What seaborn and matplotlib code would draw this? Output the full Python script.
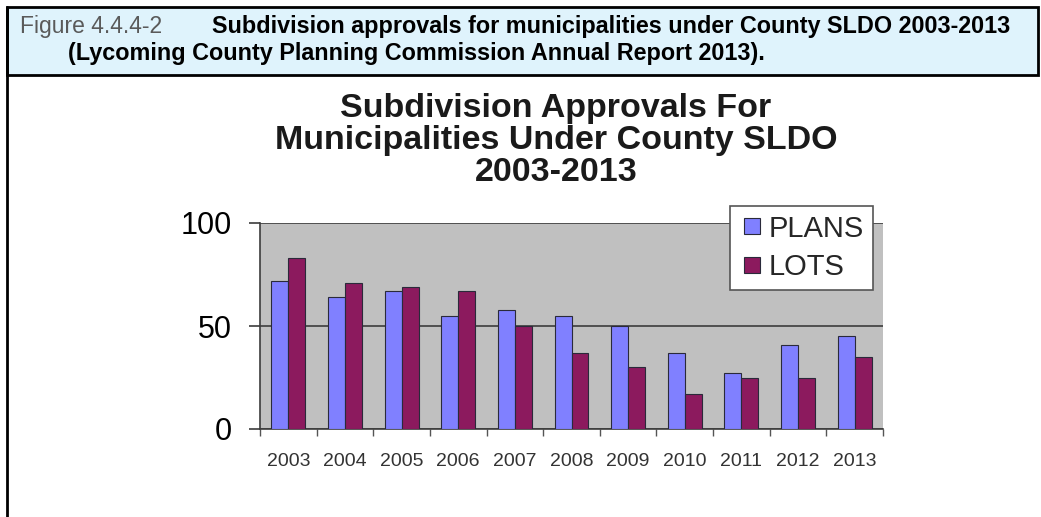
import matplotlib
matplotlib.use("Agg")
import matplotlib.pyplot as plt
import seaborn as sns
import pandas as pd
from matplotlib.patches import Rectangle
from matplotlib.lines import Line2D
from matplotlib.ticker import FixedLocator, NullFormatter

# ---- data ----
years = ["2003", "2004", "2005", "2006", "2007", "2008", "2009", "2010", "2011", "2012", "2013"]
plans = [72, 64, 67, 55, 58, 55, 50, 37, 27, 41, 45]
lots = [83, 71, 69, 67, 50, 37, 30, 17, 25, 25, 35]
series = ["PLANS", "LOTS"]
colors = ["#8080FF", "#8C1A5E"]
y_ticks = [0, 50, 100]

df = pd.DataFrame({
    "Year": years * 2,
    "Value": plans + lots,
    "Series": [series[0]] * len(years) + [series[1]] * len(years),
})

sns.set_theme(style="white")
plt.rcParams["font.family"] = ["Liberation Sans", "DejaVu Sans"]

W, H = 1041, 517
fig = plt.figure(figsize=(W / 100, H / 100), dpi=100)
fig.patch.set_facecolor("white")

def fx(px):
    return px / W

def fy(py):
    return 1 - py / H

# header band
fig.patches.append(Rectangle((fx(7), fy(75)), fx(1038) - fx(7), fy(7) - fy(75),
                             transform=fig.transFigure, facecolor="#DFF3FC",
                             edgecolor="black", lw=2, zorder=0))
fig.lines.append(Line2D([fx(7), fx(7)], [0, fy(7)], transform=fig.transFigure,
                        color="black", lw=2))
fig.text(fx(20), fy(33), "Figure 4.4.4-2", fontsize=16.5, color="#5a5a5a",
         va="baseline", ha="left")
fig.text(fx(212), fy(33), "Subdivision approvals for municipalities under County SLDO 2003-2013",
         fontsize=16.8, fontweight="bold", color="black", va="baseline", ha="left")
fig.text(fx(68), fy(60), "(Lycoming County Planning Commission Annual Report 2013).",
         fontsize=16.8, fontweight="bold", color="black", va="baseline", ha="left")

# chart title
fig.text(fx(556), fy(93), "Subdivision Approvals For\nMunicipalities Under County SLDO\n2003-2013",
         fontsize=24.5, fontweight="bold", color="#1a1a1a", ha="center", va="top",
         linespacing=1.05)

# axes
ax = fig.add_axes([fx(260), fy(429), fx(883) - fx(260), fy(223) - fy(429)])
sns.barplot(data=df, x="Year", y="Value", hue="Series", palette=colors,
            width=0.6, saturation=1, edgecolor="#2a2a3a", linewidth=0.8,
            errorbar=None, ax=ax, zorder=3)
ax.set_facecolor("#C0C0C0")
ax.set_xlim(-0.5, len(years) - 0.5)
ax.set_ylim(0, 100)
ax.set_yticks(y_ticks)
ax.set_yticklabels([str(t) for t in y_ticks])
ax.yaxis.grid(True, color="#3c3c3c", lw=1.2, zorder=1)
ax.set_axisbelow(True)
ax.set_xlabel("")
ax.set_ylabel("")

for s in ["top", "right"]:
    ax.spines[s].set_visible(False)
ax.spines["left"].set_color("#3c3c3c")
ax.spines["bottom"].set_color("#3c3c3c")
ax.spines["left"].set_linewidth(1.2)
ax.spines["bottom"].set_linewidth(1.2)

ax.tick_params(axis="y", which="major", direction="out", length=8, width=1.2,
               color="#3c3c3c", labelsize=22, pad=12, labelcolor="black", left=True)
ax.tick_params(axis="x", which="major", length=0, labelsize=14, pad=17,
               labelcolor="#333333")
ax.xaxis.set_minor_locator(FixedLocator([i - 0.5 for i in range(len(years) + 1)]))
ax.xaxis.set_minor_formatter(NullFormatter())
ax.tick_params(axis="x", which="minor", direction="out", length=5, width=1,
               color="#555555", bottom=True)

handles = [Line2D([], [], marker="s", ls="", markersize=12, markerfacecolor=c,
                  markeredgecolor="#2a2a3a", markeredgewidth=0.8) for c in colors]
leg = ax.legend(handles, series, loc="upper right", bbox_to_anchor=(0.984, 1.083),
                borderaxespad=0, frameon=True, fancybox=False, framealpha=1,
                edgecolor="#555555", fontsize=21, handletextpad=0.15,
                handlelength=0.9, labelspacing=0.35, borderpad=0.3)
leg.get_frame().set_linewidth(1.2)
leg.set_zorder(10)

fig.savefig("out.png", dpi=100)
